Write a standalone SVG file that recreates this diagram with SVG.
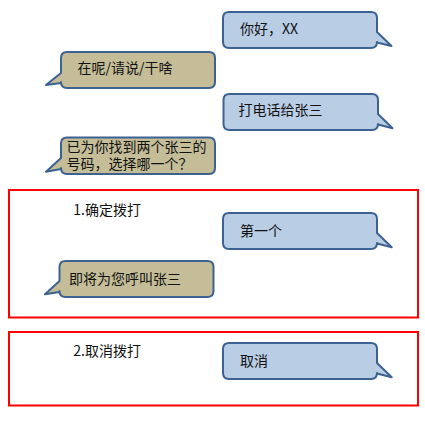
<svg xmlns="http://www.w3.org/2000/svg" width="425" height="421" viewBox="0 0 425 421">
<style>
.blue{fill:#B9CDE5;stroke:#3C6291;stroke-width:2;stroke-linejoin:round}
.tan{fill:#C4BD97;stroke:#3C6291;stroke-width:2;stroke-linejoin:round}
.frame{fill:none;stroke:#FF0000;stroke-width:2}
text{font-family:"Microsoft YaHei","Noto Sans CJK SC","Noto Sans",sans-serif;font-size:14px;fill:#111}
text.two{font-family:"Liberation Sans","Noto Sans CJK SC",sans-serif}
</style>
<rect width="425" height="421" fill="#fff"/>
<g id="frames">
<rect id="frame1" class="frame" x="9" y="190" width="409" height="127.5"/>
<rect id="frame2" class="frame" x="9" y="332" width="409" height="73.5"/>
</g>
<g id="connectors"/>
<g id="n1">
<path class="blue" d="M229,12 H371 Q377,12 377,18 V32 L391.5,46 L377,42.5 V42 Q377,48 371,48 H229 Q223,48 223,42 V18 Q223,12 229,12 Z"/>
<text x="240" y="33.5">你好，XX</text>
</g>
<g id="n2">
<path class="tan" d="M67,52 H209 Q215,52 215,58 V82 Q215,88 209,88 H67 Q61,88 61,82 V83 L46,85 L61,73 V58 Q61,52 67,52 Z"/>
<text x="77.5" y="73">在呢/请说/干啥</text>
</g>
<g id="n3">
<path class="blue" d="M229.5,94 H372 Q378,94 378,100 V114 L392.5,128.3 L378,124.5 V124 Q378,130 372,130 H229.5 Q223.5,130 223.5,124 V100 Q223.5,94 229.5,94 Z"/>
<text x="238.5" y="115">打电话给张三</text>
</g>
<g id="n4">
<path class="tan" d="M67,137.5 H209 Q215,137.5 215,143.5 V168 Q215,174 209,174 H67 Q61,174 61,168 V169 L46,171.7 L61,158 V143.5 Q61,137.5 67,137.5 Z"/>
<text class="two" x="66.5" y="152"><tspan x="66.5" y="152">已为你找到两个张三的</tspan><tspan x="66.5" y="169.3">号码，选择哪一个？</tspan></text>
</g>
<g id="label1"><text x="73.3" y="215">1.确定拨打</text></g>
<g id="n5">
<path class="blue" d="M229,213 H371 Q377,213 377,219 V233 L391.7,247.3 L377,243.5 V243 Q377,249 371,249 H229 Q223,249 223,243 V219 Q223,213 229,213 Z"/>
<text x="240" y="235.5">第一个</text>
</g>
<g id="n6">
<path class="tan" d="M65.5,261 H207.5 Q213.5,261 213.5,267 V291 Q213.5,297 207.5,297 H65.5 Q59.5,297 59.5,291 V292 L45,294.3 L59.5,281 V267 Q59.5,261 65.5,261 Z"/>
<text x="69" y="283.5">即将为您呼叫张三</text>
</g>
<g id="label2"><text x="73.3" y="356">2.取消拨打</text></g>
<g id="n7">
<path class="blue" d="M229,343 H371 Q377,343 377,349 V363 L391.7,377.3 L377,373.5 V373 Q377,379 371,379 H229 Q223,379 223,373 V349 Q223,343 229,343 Z"/>
<text x="240" y="365.5">取消</text>
</g>
</svg>
